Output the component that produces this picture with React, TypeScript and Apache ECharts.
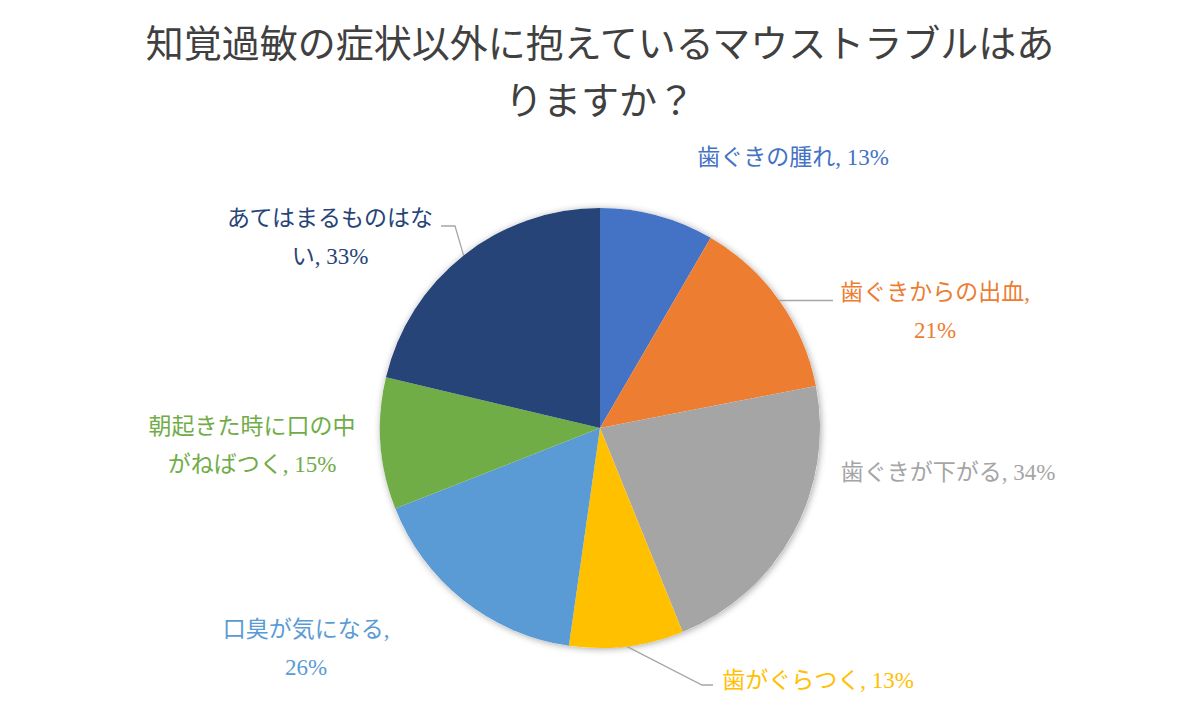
import React, { useEffect, useRef } from 'react';
import * as echarts from 'echarts';

const titleLines = ['知覚過敏の症状以外に抱えているマウストラブルはあ', 'りますか？'];
const categories = [
  '歯ぐきの腫れ',
  '歯ぐきからの出血',
  '歯ぐきが下がる',
  '歯がぐらつく',
  '口臭が気になる',
  '朝起きた時に口の中がねばつく',
  'あてはまるものはない',
];
const values = [13, 21, 34, 13, 26, 15, 33];
const colors = ['#4472C4', '#ED7D31', '#A5A5A5', '#FFC000', '#5B9BD5', '#70AD47', '#264478'];

// label wrapping: null = one line, >= name length = break after comma, else break after n chars
const labelWrap: (number | null)[] = [null, 99, null, null, 99, 9, 9];
// label centre positions (layout)
const labelPos: number[][] = [
  [793, 157],
  [935, 311],
  [948, 472],
  [818, 680],
  [306, 648],
  [252, 445],
  [330, 237],
];
// leader line bend / end points (layout); absent = no leader line
const leaderPts: Record<number, number[][]> = {
  1: [[833, 300.5]],
  3: [[702, 685], [713, 685]],
  6: [[455, 226], [441, 226]],
};
const titleTops = [15, 72];

const FONT = "'Liberation Serif', 'Noto Sans CJK JP', serif";

function labelText(i: number): string {
  const name = categories[i];
  const v = values[i];
  const w = labelWrap[i];
  if (w == null) return `${name}, ${v}%`;
  if (w >= name.length) return `${name},\n${v}%`;
  return `${name.slice(0, w)}\n${name.slice(w)}, ${v}%`;
}

export default function App() {
  const ref = useRef<HTMLDivElement>(null);
  useEffect(() => {
    document.body.style.margin = '0';
    if (!ref.current) return;
    const chart = echarts.init(ref.current, null, { renderer: 'svg' });
    const total = values.reduce((a, b) => a + b, 0);
    const cx = 600;
    const cy = 428;
    const R = 220;
    const midPoint = (i: number) => {
      let before = 0;
      for (let k = 0; k < i; k++) before += values[k];
      const a = ((before + values[i] / 2) / total) * Math.PI * 2;
      return [cx + R * Math.sin(a), cy - R * Math.cos(a)];
    };
    chart.setOption({
      animation: false,
      backgroundColor: '#ffffff',
      title: titleLines.map((t, i) => ({
        text: t,
        left: 'center',
        top: titleTops[i],
        padding: 0,
        textStyle: {
          fontFamily: FONT,
          fontSize: 38,
          fontWeight: 'normal',
          color: '#404040',
          lineHeight: 57,
        },
      })),
      series: [
        {
          type: 'pie',
          silent: true,
          center: [cx, cy],
          radius: R,
          z: 1,
          label: { show: false },
          labelLine: { show: false },
          itemStyle: {
            color: '#ffffff',
            shadowBlur: 7,
            shadowColor: 'rgba(0,0,0,0.35)',
            shadowOffsetX: 1,
            shadowOffsetY: 1,
          },
          data: [{ value: 1, name: 'shadow' }],
        },
        {
          type: 'pie',
          z: 2,
          center: [cx, cy],
          radius: R,
          startAngle: 90,
          clockwise: true,
          avoidLabelOverlap: false,
          itemStyle: { borderWidth: 0 },
          label: {
            show: true,
            position: 'outside',
            fontFamily: FONT,
            fontSize: 23,
            lineHeight: 38,
            align: 'center',
            formatter: (p: any) => labelText(p.dataIndex),
          },
          labelLine: {
            show: true,
            lineStyle: { color: '#A6A6A6', width: 1.3 },
          },
          labelLayout: (p: any) => {
            const i = p.dataIndex;
            const pos = labelPos[i];
            const res: any = { x: pos[0], y: pos[1], align: 'center', verticalAlign: 'middle' };
            const extra = leaderPts[i];
            if (extra) {
              const p0 =
                p.labelLinePoints && p.labelLinePoints[0] ? p.labelLinePoints[0] : midPoint(i);
              res.labelLinePoints = [p0, ...extra];
            }
            return res;
          },
          emphasis: { disabled: true },
          data: categories.map((name, i) => ({
            name,
            value: values[i],
            itemStyle: { color: colors[i] },
            label: { color: colors[i] },
            labelLine: { show: !!leaderPts[i] },
          })),
        },
      ],
    });
    return () => chart.dispose();
  }, []);
  return <div ref={ref} style={{ width: 1200, height: 708 }} />;
}
